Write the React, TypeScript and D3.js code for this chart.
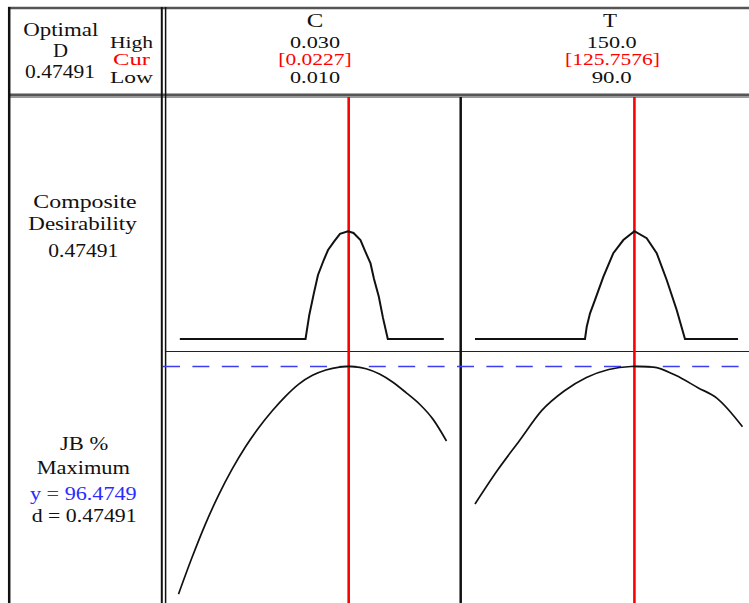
import React from "react";
import * as d3 from "d3";

// ---- data ----
const factorNames = ["C", "T"];
const highLabels = ["0.030", "150.0"];
const curLabels = ["[0.0227]", "[125.7576]"];
const lowLabels = ["0.010", "90.0"];
const cDomain = [0.01, 0.03];
const tDomain = [90, 150];
const currentC = 0.0227;
const currentT = 125.7576;
const optimalY = 96.4749;
const compositeD = 0.47491;
const responseName = "JB %";
const goalName = "Maximum";

// JB % response vs C
const jbC_x = [0.010, 0.011, 0.012, 0.013, 0.014, 0.015, 0.016, 0.017, 0.018, 0.019, 0.020, 0.021, 0.022, 0.0227, 0.023, 0.024, 0.025, 0.026, 0.027, 0.028, 0.029, 0.030];
const jbC_y = [40.7, 49.6, 57.8, 65.0, 71.3, 76.8, 81.5, 85.6, 89.2, 92.2, 94.3, 95.6, 96.3, 96.47, 96.43, 95.9, 94.6, 92.6, 90.0, 87.2, 83.5, 78.2];

// JB % response vs T
const jbT_x = [90, 95, 100, 105, 110, 115, 120, 125, 125.7576, 130, 135, 140, 144.3, 150];
const jbT_y = [62.78, 70.98, 78.33, 85.70, 90.45, 93.76, 95.72, 96.45, 96.47, 96.30, 94.29, 91.26, 88.66, 81.70];

// composite desirability vs C
const desC_x = [0.0101, 0.01948, 0.01976, 0.0201, 0.02041, 0.02084, 0.02116, 0.02159, 0.02205, 0.02265, 0.02306, 0.02358, 0.02392, 0.02433, 0.02459, 0.02495, 0.02526, 0.02562, 0.0298];
const desC_d = [0, 0, 0.106, 0.201, 0.282, 0.348, 0.392, 0.428, 0.463, 0.4749, 0.467, 0.436, 0.388, 0.333, 0.264, 0.186, 0.093, 0, 0];

// composite desirability vs T
const desT_x = [90, 114.67, 115.06, 115.8, 116.92, 118.78, 121.02, 123.27, 125.76, 128.51, 130.76, 133.0, 135.24, 137.1, 149.0];
const desT_d = [0, 0, 0.054, 0.113, 0.172, 0.274, 0.378, 0.436, 0.4749, 0.444, 0.378, 0.26, 0.128, 0, 0];

const FONT = "'Liberation Serif', 'Times New Roman', serif";

type TxtProps = { x: number; y: number; w: number; fill?: string; size?: number; children: React.ReactNode };
const Txt = ({ x, y, w, fill = "#111", size = 18, children }: TxtProps) => (
  <text
    x={x}
    y={y}
    textLength={w}
    lengthAdjust="spacingAndGlyphs"
    fontFamily={FONT}
    fontSize={size}
    fill={fill}
  >
    {children}
  </text>
);

export default function App() {
  const W = 749;
  const H = 603;
  const S = 16; // stacked header rows

  const xC = d3.scaleLinear().domain(cDomain).range([178.5, 446.5]);
  const xT = d3.scaleLinear().domain(tDomain).range([475, 742.5]);
  const yJB = d3.scaleLinear().domain([40, 100]).range([597, 352]);
  const yD = d3.scaleLinear().domain([0, 1]).range([339, 112]);

  const mkLine = (xs: number[], ys: number[], sx: any, sy: any, curve: any) =>
    d3
      .line<number>()
      .x((_, i) => sx(xs[i]))
      .y((_, i) => sy(ys[i]))
      .curve(curve)(xs.map((v) => v)) || "";

  const pJBC = mkLine(jbC_x, jbC_y, xC, yJB, d3.curveMonotoneX);
  const pJBT = mkLine(jbT_x, jbT_y, xT, yJB, d3.curveMonotoneX);
  const pDC = mkLine(desC_x, desC_d, xC, yD, d3.curveLinear);
  const pDT = mkLine(desT_x, desT_d, xT, yD, d3.curveLinear);

  const yOpt = yJB(optimalY);
  const redC = xC(currentC);
  const redT = xT(currentT);

  return (
    <svg
      width={W}
      height={H}
      style={{ position: "absolute", left: 0, top: 0, display: "block", background: "#fff" }}
    >
      <rect x={0} y={0} width={W} height={H} fill="#fff" />

      {/* frame */}
      <line x1={8} x2={W} y1={8} y2={8} stroke="#555" strokeWidth={2.5} />
      <line x1={8} x2={W} y1={94.8} y2={94.8} stroke="#555" strokeWidth={2.5} />
      <line x1={8} x2={W} y1={97} y2={97} stroke="#333" strokeWidth={1} />
      <line x1={9.2} x2={9.2} y1={7} y2={H} stroke="#111" strokeWidth={2.5} />
      <line x1={161.8} x2={161.8} y1={7} y2={H} stroke="#111" strokeWidth={2} />
      <line x1={165.6} x2={165.6} y1={7} y2={H} stroke="#111" strokeWidth={1.5} />
      <line x1={166} x2={W} y1={351.5} y2={351.5} stroke="#222" strokeWidth={1.2} />
      <line x1={460.7} x2={460.7} y1={97} y2={H} stroke="#111" strokeWidth={2.5} />

      {/* current setting lines */}
      <line x1={redC} x2={redC} y1={97} y2={H} stroke="#ff0000" strokeWidth={2.6} />
      <line x1={redT} x2={redT} y1={97} y2={H} stroke="#ff0000" strokeWidth={2.6} />

      {/* optimal response dashed line */}
      <line
        x1={163}
        x2={W}
        y1={yOpt}
        y2={yOpt}
        stroke="#3c3cf0"
        strokeWidth={1.5}
        strokeDasharray="17 12.4"
      />

      {/* curves */}
      <path d={pDC} fill="none" stroke="#111" strokeWidth={2} />
      <path d={pDT} fill="none" stroke="#111" strokeWidth={2} />
      <path d={pJBC} fill="none" stroke="#111" strokeWidth={1.7} />
      <path d={pJBT} fill="none" stroke="#111" strokeWidth={1.7} />

      {/* header left */}
      <Txt x={23.3} y={36} w={75}>Optimal</Txt>
      <Txt x={53} y={57} w={15}>D</Txt>
      <Txt x={25} y={78} w={70}>{compositeD.toFixed(5)}</Txt>
      <Txt x={110} y={48} w={43} size={S}>High</Txt>
      <Txt x={113} y={65} w={37} size={S} fill="#ff0000">Cur</Txt>
      <Txt x={110} y={83} w={43} size={S}>Low</Txt>

      {/* header factors */}
      <Txt x={306.7} y={26.7} w={16.6}>{factorNames[0]}</Txt>
      <Txt x={290} y={48} w={50} size={S}>{highLabels[0]}</Txt>
      <Txt x={278.3} y={65} w={73.4} size={S} fill="#ff0000">{curLabels[0]}</Txt>
      <Txt x={290} y={83} w={50} size={S}>{lowLabels[0]}</Txt>

      <Txt x={603} y={26.7} w={14}>{factorNames[1]}</Txt>
      <Txt x={586.7} y={48} w={50} size={S}>{highLabels[1]}</Txt>
      <Txt x={565} y={65} w={95} size={S} fill="#ff0000">{curLabels[1]}</Txt>
      <Txt x={591.7} y={83} w={40} size={S}>{lowLabels[1]}</Txt>

      {/* row labels */}
      <Txt x={33.3} y={208} w={103.4}>Composite</Txt>
      <Txt x={28.3} y={230} w={108.4}>Desirability</Txt>
      <Txt x={48.3} y={256.7} w={70}>{compositeD.toFixed(5)}</Txt>

      <Txt x={60} y={450} w={48.3}>{responseName}</Txt>
      <Txt x={36.7} y={474} w={93.3}>{goalName}</Txt>
      <Txt x={30} y={500} w={106.7} fill="#2b2bff">{`y = ${optimalY.toFixed(4)}`}</Txt>
      <Txt x={31.7} y={521.7} w={105}>{`d = ${compositeD.toFixed(5)}`}</Txt>
    </svg>
  );
}
